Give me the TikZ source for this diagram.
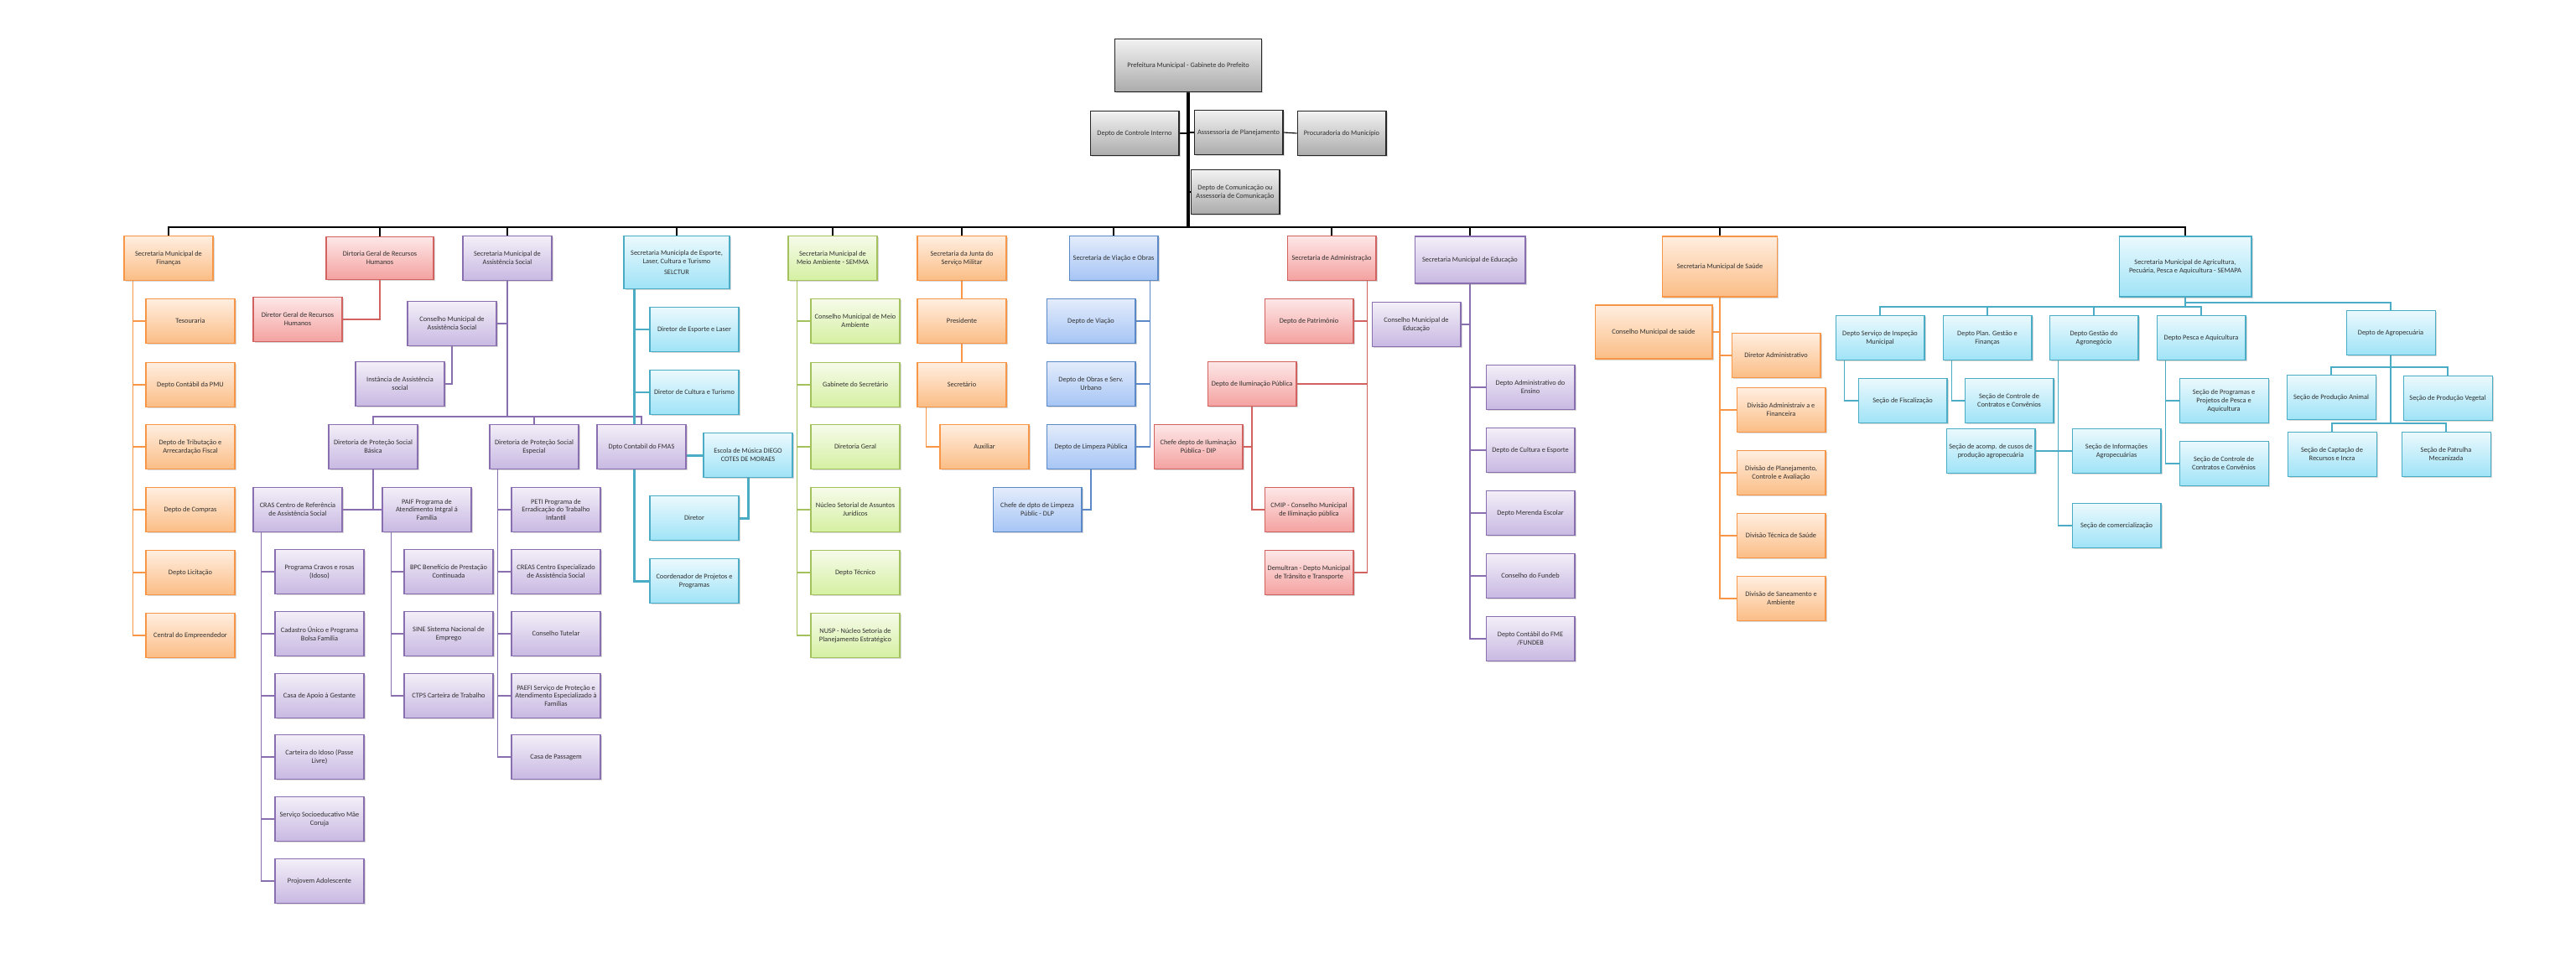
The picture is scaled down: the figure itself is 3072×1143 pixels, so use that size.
\documentclass[tikz,border=0pt]{standalone}
\usepackage{fontspec}
\setmainfont{Carlito}
\usetikzlibrary{positioning,calc,shadows}
\definecolor{txt}{HTML}{303030}
\definecolor{grayln}{HTML}{262626}
\definecolor{graytop}{HTML}{F2F2F2}
\definecolor{graybot}{HTML}{ABABAB}
\definecolor{orgln}{HTML}{F79646}
\definecolor{orgtop}{HTML}{FFEEE0}
\definecolor{orgbot}{HTML}{FBBD85}
\definecolor{redln}{HTML}{D2625F}
\definecolor{redtop}{HTML}{FDE7E7}
\definecolor{redbot}{HTML}{F4A2A0}
\definecolor{purln}{HTML}{8A6FB0}
\definecolor{purtop}{HTML}{F3EFF8}
\definecolor{purbot}{HTML}{C8B8E2}
\definecolor{tealln}{HTML}{4BACC6}
\definecolor{tealtop}{HTML}{EBF9FD}
\definecolor{tealbot}{HTML}{9FE3F7}
\definecolor{grnln}{HTML}{A3C25E}
\definecolor{grntop}{HTML}{F6FBEA}
\definecolor{grnbot}{HTML}{D5F0A2}
\definecolor{bluln}{HTML}{5B89C8}
\definecolor{blutop}{HTML}{E3ECFB}
\definecolor{blubot}{HTML}{A6C5F5}

\pgfdeclarelayer{bg}
\pgfdeclarelayer{back}
\pgfsetlayers{bg,back,main}

\tikzset{
  box/.style={draw,line width=0.6pt,minimum width=2.12cm,minimum height=1.06cm,inner sep=1pt,align=center,text=txt,
    font=\fontsize{4.75}{5.6}\selectfont,drop shadow={shadow xshift=0.035cm,shadow yshift=-0.035cm,opacity=0.3}},
  graybox/.style={box,draw=grayln,top color=graytop,bottom color=graybot},
  orgbox/.style={box,draw=orgln,top color=orgtop,bottom color=orgbot},
  redbox/.style={box,draw=redln,top color=redtop,bottom color=redbot},
  purbox/.style={box,draw=purln,top color=purtop,bottom color=purbot},
  tealbox/.style={box,draw=tealln,top color=tealtop,bottom color=tealbot},
  grnbox/.style={box,draw=grnln,top color=grntop,bottom color=grnbot},
  blubox/.style={box,draw=bluln,top color=blutop,bottom color=blubot},
  link/.style={line width=0.65pt},
  buslink/.style={link,draw=black},
  orglink/.style={link,draw=orgln},
  redlink/.style={link,draw=redln},
  purlink/.style={link,draw=purln},
  teallink/.style={link,draw=tealln},
  grnlink/.style={link,draw=grnln},
  blulink/.style={link,draw=bluln}
}

\begin{document}
\begin{tikzpicture}[x=0.02cm,y=-0.02cm]
\useasboundingbox (0,0) rectangle (3072,1143);
\begin{pgfonlayer}{bg}
  \fill[white] (0,0) rectangle (3072,1143);
\end{pgfonlayer}

% gabinete
\node[graybox,minimum width=3.5cm,minimum height=1.26cm] (pref) at (1417,78) {Prefeitura Municipal - Gabinete do Prefeito};
\node[graybox] (ctrl) at (1353,159) {Depto de Controle Interno};
\node[graybox] (plan) at (1477,158) {Asssessoria de Planejamento};
\node[graybox] (proc) at (1600,159) {Procuradoria do Município};
\node[graybox] (com) at (1473,229) {Depto de Comunicação ou\\Assessoria de Comunicação};
\coordinate (bus) at (1417,271);

% financas
\node[orgbox] (fin) at (201,308) {Secretaria Municipal de\\Finanças};
\node[orgbox] (tes) at (227,383) {Tesouraria};
\node[orgbox] (pmu) at (227,459) {Depto Contábil da PMU};
\node[orgbox] (trib) at (227,533) {Depto de Tributação e\\Arrecardação Fiscal};
\node[orgbox] (comp) at (227,608) {Depto de Compras};
\node[orgbox] (lic) at (227,683) {Depto Licitação};
\node[orgbox] (emp) at (227,758) {Central do Empreendedor};

% recursos humanos
\node[redbox,minimum width=2.56cm,minimum height=1.02cm] (rh) at (453,308) {Dirtoria Geral de Recursos\\Humanos};
\node[redbox] (drh) at (355,381) {Diretor Geral de Recursos\\Humanos};

% assistencia social
\node[purbox] (ass) at (605,308) {Secretaria Municipal de\\Assistência Social};
\node[purbox] (cmas) at (539,386) {Conselho Municipal de\\Assistência Social};
\node[purbox] (inst) at (477,458) {Instância de Assistência\\social};
\coordinate (asj) at (605,497);
\node[purbox] (psb) at (445,533) {Diretoria de Proteção Social\\Básica};
\node[purbox] (pse) at (637,533) {Diretoria de Proteção Social\\Especial};
\node[purbox] (fmas) at (765,533) {Dpto Contabil do FMAS};
\node[purbox] (cras) at (355,608) {CRAS Centro de Referência\\de Assistência Social};
\node[purbox] (paif) at (509,608) {PAIF Programa de\\Atendimento Intgral á\\Família};
\node[purbox] (cr1) at (381,682) {Programa Cravos e rosas\\(Idoso)};
\node[purbox] (cr2) at (381,756) {Cadastro Único e Programa\\Bolsa Família};
\node[purbox] (cr3) at (381,830) {Casa de Apoio à Gestante};
\node[purbox] (cr4) at (381,903) {Carteira do Idoso (Passe\\Livre)};
\node[purbox] (cr5) at (381,977) {Serviço Socioeducativo Mãe\\Coruja};
\node[purbox] (cr6) at (381,1051) {Projovem Adolescente};
\node[purbox] (pf1) at (535,682) {BPC Benefício de Prestação\\Continuada};
\node[purbox] (pf2) at (535,756) {SINE Sistema Nacional de\\Emprego};
\node[purbox] (pf3) at (535,830) {CTPS Carteira de Trabalho};
\node[purbox] (pe1) at (663,608) {PETI Programa de\\Erradicação do Trabalho\\Infantil};
\node[purbox] (pe2) at (663,682) {CREAS Centro Especializado\\de Assistência Social};
\node[purbox] (pe3) at (663,756) {Conselho Tutelar};
\node[purbox] (pe4) at (663,830) {PAEFI Serviço de Proteção e\\Atendimento Especializado à\\Famílias};
\node[purbox] (pe5) at (663,903) {Casa de Passagem};

% esporte
\node[tealbox,minimum width=2.52cm,minimum height=1.26cm] (esp) at (807,313) {Secretaria Municipla de Esporte,\\Laser, Cultura e Turismo\\[2pt]SELCTUR};
\node[tealbox] (desp) at (828,393) {Diretor de Esporte e Laser};
\node[tealbox] (dcul) at (828,468) {Diretor de Cultura e Turismo};
\node[tealbox] (esc) at (892,543) {Escola de Música DIEGO\\COTES DE MORAES};
\node[tealbox] (dir) at (828,618) {Diretor};
\node[tealbox] (coord) at (828,693) {Coordenador de Projetos e\\Programas};

% meio ambiente
\node[grnbox] (semma) at (993,308) {Secretaria Municipal de\\Meio Ambiente - SEMMA};
\node[grnbox] (m1) at (1020,383) {Conselho Municipal de Meio\\Ambiente};
\node[grnbox] (m2) at (1020,459) {Gabinete do Secretário};
\node[grnbox] (m3) at (1020,533) {Diretoria Geral};
\node[grnbox] (m4) at (1020,608) {Núcleo Setorial de Assuntos\\Jurídicos};
\node[grnbox] (m5) at (1020,683) {Depto Técnico};
\node[grnbox] (m6) at (1020,758) {NUSP - Núcleo Setoria de\\Planejamento Estratégico};

% junta militar
\node[orgbox] (junta) at (1147,308) {Secretaria da Junta do\\Serviço Militar};
\node[orgbox] (pres) at (1147,383) {Presidente};
\node[orgbox] (secr) at (1147,459) {Secretário};
\node[orgbox] (aux) at (1174,533) {Auxiliar};

% viacao e obras
\node[blubox] (viac) at (1328,308) {Secretaria de Viação e Obras};
\node[blubox] (dv) at (1301,383) {Depto de Viação};
\node[blubox] (dob) at (1301,458) {Depto de Obras e Serv.\\Urbano};
\node[blubox] (dlp) at (1301,533) {Depto de Limpeza Pública};
\node[blubox] (cdlp) at (1237,608) {Chefe de dpto de Limpeza\\Públic - DLP};

% administracao
\node[redbox] (adm) at (1588,308) {Secretaria de Administração};
\node[redbox] (pat) at (1561,383) {Depto de Patrimônio};
\node[redbox] (ilum) at (1493,458) {Depto de Iluminação Pública};
\node[redbox] (dip) at (1429,533) {Chefe depto de Iluminação\\Pública - DIP};
\node[redbox] (cmip) at (1561,608) {CMIP - Conselho Municipal\\de Iliminação pública};
\node[redbox] (demu) at (1561,683) {Demultran - Depto Municipal\\de Trânsito e Transporte};

% educacao
\node[purbox,minimum width=2.64cm,minimum height=1.12cm] (edu) at (1753,310) {Secretaria Municipal de Educação};
\node[purbox] (cme) at (1689,387) {Conselho Municipal de\\Educação};
\node[purbox] (e1) at (1825,462) {Depto Administrativo do\\Ensino};
\node[purbox] (e2) at (1825,537) {Depto de Cultura e Esporte};
\node[purbox] (e3) at (1825,612) {Depto Merenda Escolar};
\node[purbox] (e4) at (1825,687) {Conselho do Fundeb};
\node[purbox] (e5) at (1825,762) {Depto Contábil do FME\\/FUNDEB};

% saude
\node[orgbox,minimum width=2.74cm,minimum height=1.44cm] (sau) at (2051,318) {Secretaria Municipal de Saúde};
\node[orgbox,minimum width=2.8cm,minimum height=1.28cm] (cms) at (1972,396) {Conselho Municipal de saúde};
\node[orgbox] (dadm) at (2118,424) {Diretor Administrativo};
\node[orgbox] (s1) at (2124,489) {Divisão Administraiv a e\\Financeira};
\node[orgbox] (s2) at (2124,564) {Divisão de Planejamento,\\Controle e Avaliação};
\node[orgbox] (s3) at (2124,639) {Divisão Técnica de Saúde};
\node[orgbox] (s4) at (2124,714) {Divisão de Saneamento e\\Ambiente};

% agricultura
\node[tealbox,minimum width=3.16cm,minimum height=1.44cm] (agr) at (2606,318) {Secretaria Municipal de Agricultura,\\Pecuária, Pesca e  Aquicultura - SEMAPA};
\coordinate (agj) at (2606,366);
\coordinate (agk) at (2606,361);
\node[tealbox] (insp) at (2242,403) {Depto Serviço de Inspeção\\Municipal};
\node[tealbox] (dpla) at (2370,403) {Depto Plan. Gestão e\\Finanças};
\node[tealbox] (dneg) at (2497,403) {Depto Gestão do\\Agronegócio};
\node[tealbox] (pesca) at (2625,403) {Depto Pesca e Aquicultura};
\node[tealbox] (agro) at (2851,397) {Depto de Agropecuária};
\node[tealbox] (fisc) at (2269,478) {Seção de Fiscalização};
\node[tealbox] (ctr1) at (2396,478) {Seção de Controle de\\Contratos e Convênios};
\node[tealbox] (acomp) at (2374,538) {Seção de acomp. de cusos de\\produção agropecuária};
\node[tealbox] (info) at (2524,538) {Seção de Informações\\Agropecuárias};
\node[tealbox] (comer) at (2524,627) {Seção de comercialização};
\node[tealbox] (prog) at (2652,478) {Seção de Programas e\\Projetos de Pesca e\\Aquicultura};
\node[tealbox] (ctr2) at (2652,553) {Seção de Controle de\\Contratos e Convênios};
\coordinate (apj) at (2851,438);
\coordinate (apk) at (2851,505);
\node[tealbox] (panim) at (2780,474) {Seção de Produção Animal};
\node[tealbox] (pveg) at (2919,475) {Seção de Produção Vegetal};
\node[tealbox] (capt) at (2781,542) {Seção de Captação de\\Recursos e Incra};
\node[tealbox] (patr) at (2917,542) {Seção de Patrulha\\Mecanizada};

\begin{pgfonlayer}{back}
  \draw[buslink,line width=1.8pt] (pref.south) -- (bus);
  \draw[buslink] (ctrl.east) -- (ctrl.east -| pref.south);
  \draw[buslink] (plan.west) -- (plan.west -| pref.south);
  \draw[buslink] (plan.east) -- (proc.west);
  \draw[buslink] (com.west) -- (com.west -| pref.south);
  \foreach \s in {fin,rh,ass,esp,semma,junta,viac,adm,edu,sau,agr}
    \draw[buslink] (bus) -| (\s.north);
  \draw[buslink,line width=1.5pt] (bus) -- (bus -| ass.north);

  \foreach \c in {tes,pmu,trib,comp,lic,emp}
    \draw[orglink] (fin.south west) ++(11,0) |- (\c.west);
  \draw[redlink] (rh.south) |- (drh.east);

  \draw[purlink] (ass.south) -- (asj) -| (psb.north);
  \draw[purlink] (asj) -| (pse.north);
  \draw[purlink] (asj) -| (fmas.north);
  \draw[purlink] (cmas.east) -- (cmas.east -| ass.south);
  \draw[purlink] (cmas.south) |- (inst.east);
  \draw[purlink] (psb.south) |- (cras.east);
  \draw[purlink] (psb.south) |- (paif.west);
  \foreach \c in {cr1,cr2,cr3,cr4,cr5,cr6}
    \draw[purlink] (cras.south west) ++(10,0) |- (\c.west);
  \foreach \c in {pf1,pf2,pf3}
    \draw[purlink] (paif.south west) ++(11,0) |- (\c.west);
  \foreach \c in {pe1,pe2,pe3,pe4,pe5}
    \draw[purlink] (pse.south west) ++(10,0) |- (\c.west);

  \draw[teallink] (esp.south west) ++(13,0) |- (desp.west);
  \draw[teallink] (esp.south west) ++(13,0) |- (dcul.west);
  \draw[teallink,line width=1.7pt] (esp.south west) ++(13,0) |- (coord.west);
  \draw[teallink,line width=1.7pt] (esp.south west) ++(13,0) |- (esc.west);
  \draw[teallink,line width=1.7pt] (esc.south) |- (dir.east);

  \foreach \c in {m1,m2,m3,m4,m5,m6}
    \draw[grnlink] (semma.south west) ++(11,0) |- (\c.west);
  \draw[orglink] (junta.south) -- (pres.north);
  \draw[orglink] (pres.south) -- (secr.north);
  \draw[orglink] (secr.south west) ++(11,0) |- (aux.west);

  \foreach \c in {dv,dob,dlp}
    \draw[blulink] (viac.south east) ++(-10,0) |- (\c.east);
  \draw[blulink] (dlp.south) |- (cdlp.east);

  \foreach \c in {pat,ilum,demu}
    \draw[redlink] (adm.south east) ++(-11,0) |- (\c.east);
  \draw[redlink] (ilum.south) |- (dip.east);
  \draw[redlink] (ilum.south) |- (cmip.west);

  \draw[purlink] (edu.south) |- (cme.east);
  \foreach \c in {e1,e2,e3,e4,e5}
    \draw[purlink] (edu.south) |- (\c.west);

  \draw[orglink] (sau.south) |- (cms.east);
  \foreach \c in {dadm,s1,s2,s3,s4}
    \draw[orglink] (sau.south) |- (\c.west);

  \foreach \c in {insp,dpla,dneg,pesca}
    \draw[teallink] (agr.south) -- (agj) -| (\c.north);
  \draw[teallink] (agr.south) -- (agk) -| (agro.north);
  \draw[teallink] (insp.south west) ++(11,0) |- (fisc.west);
  \draw[teallink] (dpla.south west) ++(11,0) |- (ctr1.west);
  \draw[teallink] (dneg.south west) ++(11,0) |- (acomp.east);
  \draw[teallink] (dneg.south west) ++(11,0) |- (info.west);
  \draw[teallink] (dneg.south west) ++(11,0) |- (comer.west);
  \draw[teallink] (pesca.south west) ++(11,0) |- (prog.west);
  \draw[teallink] (pesca.south west) ++(11,0) |- (ctr2.west);
  \draw[teallink] (agro.south) -- (apj) -| (panim.north);
  \draw[teallink] (apj) -| (pveg.north);
  \draw[teallink] (agro.south) -- (apk) -| (capt.north);
  \draw[teallink] (apk) -| (patr.north);
\end{pgfonlayer}
\end{tikzpicture}
\end{document}
